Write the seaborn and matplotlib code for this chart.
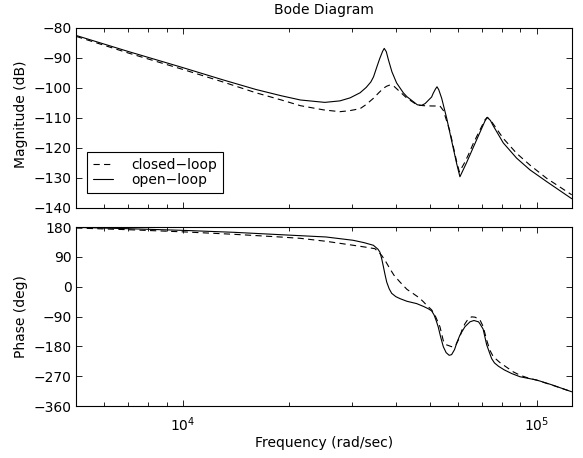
import numpy as np
import pandas as pd
import matplotlib
matplotlib.use("Agg")
import matplotlib.pyplot as plt
from matplotlib.ticker import LogLocator, NullFormatter, MultipleLocator
import seaborn as sns

# ---- frequency response data (rad/sec, dB, deg) ----
freq_mag_open = [5000, 7000, 10000, 13000, 16100, 19000, 21500, 25200, 27800,
                 29700, 31700, 33000, 34000, 34600, 35400, 36000, 36700, 37100,
                 37600, 38100, 39000, 40200, 42000, 43000, 46000, 47300, 48400,
                 50500, 51000, 51800, 52300, 52900, 53900, 55700, 56900, 59400,
                 60700, 63440, 66210, 69140, 71450, 72500, 74000, 75390, 80470,
                 87800, 95740, 106700, 125600]
mag_open = [-82.5, -87.8, -93.2, -97.3, -100.5, -102.6, -104.0, -104.8, -104.3,
            -103.3, -101.6, -99.8, -98.0, -96.3, -92.8, -90.3, -87.8, -86.8,
            -87.9, -90.5, -94.6, -98.3, -101.6, -102.9, -105.6, -105.8, -105.2,
            -103.0, -101.8, -100.3, -99.6, -100.6, -103.4, -110.1, -115.1, -125.1,
            -129.6, -124.8, -119.8, -114.8, -111.0, -109.8, -110.8, -112.6, -118.3,
            -123.4, -127.3, -131.2, -136.9]

freq_mag_closed = [5000, 7000, 10000, 13000, 16100, 19000, 21500, 25000, 27800,
                   29500, 31700, 33000, 34600, 35800, 36900, 37700, 38500, 39500,
                   40600, 43000, 46000, 48000, 50500, 53300, 54500, 56900, 59400,
                   60500, 62500, 64000, 66210, 69140, 71450, 72500, 74000, 75390,
                   80470, 87800, 95740, 106700, 125600]
mag_closed = [-82.8, -88.3, -93.8, -98.0, -101.6, -104.0, -105.9, -107.3, -107.9,
              -107.6, -106.9, -105.5, -103.4, -101.6, -100.1, -99.4, -99.0, -99.4,
              -100.7, -103.4, -105.7, -105.9, -106.0, -106.0, -107.5, -114.5, -124.5,
              -128.0, -125.0, -122.5, -118.5, -114.0, -110.6, -109.8, -110.6, -112.0,
              -116.8, -121.8, -125.7, -130.1, -135.6]

freq_ph_open = [5000, 7000, 10000, 14000, 18800, 25400, 30300, 32500, 34560,
                35620, 36080, 36480, 36870, 37300, 37700, 38300, 38940, 40000,
                41100, 43000, 45810, 48000, 49400, 50500, 51300, 52000, 52700,
                53500, 54480, 55500, 56600, 57500, 58600, 59600, 60700, 62700,
                64800, 66500, 68500, 69140, 70600, 72230, 73800, 74620, 76000,
                78000, 81000, 85000, 89700, 100000, 110000, 125600]
phase_open = [179, 175, 170, 164, 157, 150, 140, 133, 125,
              113, 104, 85, 62, 36, 14, -6, -20, -30,
              -36, -44, -51, -60, -66.5, -73, -85, -102, -121,
              -150, -181, -199, -207, -205, -190, -167, -146, -121,
              -106, -102, -106, -112, -128, -175, -203, -217, -230,
              -240, -251, -262, -271.6, -281.6, -295.5, -317]

freq_ph_closed = [5000, 7000, 10000, 14000, 18800, 21450, 25400, 30300, 33000,
                  34930, 36480, 37500, 38510, 39500, 41100, 43000, 44810, 46500,
                  47820, 48900, 50510, 51800, 53310, 54480, 55500, 57500, 59000,
                  60700, 61400, 62700, 64000, 65500, 67000, 69140, 70600, 72230,
                  73800, 75390, 78760, 82000, 85900, 89700, 93710, 100000, 110000,
                  125600]
phase_closed = [177, 172, 165.5, 158, 150, 146, 137, 125, 119,
                114.6, 94.6, 75, 54, 35, 14, -8, -21, -33,
                -45, -56, -70, -90, -121, -163, -175, -181, -177,
                -152, -133, -112, -98, -91, -92, -100, -120, -161,
                -192, -211, -229, -242, -257, -267, -274, -282, -296,
                -317]

ORDER = ["closed\u2212loop", "open\u2212loop"]

mag_df = pd.concat([
    pd.DataFrame({"freq": freq_mag_closed, "value": mag_closed, "loop": ORDER[0]}),
    pd.DataFrame({"freq": freq_mag_open, "value": mag_open, "loop": ORDER[1]}),
], ignore_index=True)
phase_df = pd.concat([
    pd.DataFrame({"freq": freq_ph_closed, "value": phase_closed, "loop": ORDER[0]}),
    pd.DataFrame({"freq": freq_ph_open, "value": phase_open, "loop": ORDER[1]}),
], ignore_index=True)

sns.set_style("white")
FS = 10
plt.rcParams["font.family"] = ["DejaVu Sans"]
plt.rcParams["font.size"] = FS
plt.rcParams["text.color"] = "black"
plt.rcParams["axes.labelcolor"] = "black"

fig = plt.figure(figsize=(5.83, 4.58), dpi=100)
ax_mag = fig.add_axes([0.1304, 0.5459, 0.8502, 0.3930])
ax_ph = fig.add_axes([0.1304, 0.1135, 0.8502, 0.3908])

LW = 0.8
palette = {ORDER[0]: "black", ORDER[1]: "black"}
dashes = {ORDER[0]: (5.6, 3.9), ORDER[1]: ""}

sns.lineplot(data=mag_df, x="freq", y="value", hue="loop", style="loop",
             hue_order=ORDER, style_order=ORDER, palette=palette, dashes=dashes,
             linewidth=LW, ax=ax_mag, legend=True)
sns.lineplot(data=phase_df, x="freq", y="value", hue="loop", style="loop",
             hue_order=ORDER, style_order=ORDER, palette=palette, dashes=dashes,
             linewidth=LW, ax=ax_ph, legend=False)


def style_axes(ax):
    ax.set_xscale("log")
    ax.set_xlim(4995, 125600)
    ax.xaxis.set_major_locator(LogLocator(base=10, numticks=10))
    ax.xaxis.set_minor_locator(LogLocator(base=10, subs=np.arange(2, 10), numticks=20))
    ax.xaxis.set_minor_formatter(NullFormatter())
    ax.tick_params(which="both", direction="in", top=True, right=True,
                   bottom=True, left=True, colors="black", labelsize=FS, width=0.6)
    ax.tick_params(which="major", length=4)
    ax.tick_params(which="minor", length=2.6)
    ax.tick_params(axis="y", pad=3)
    ax.tick_params(axis="x", pad=7)
    for sp in ax.spines.values():
        sp.set_visible(True)
        sp.set_color("black")
        sp.set_linewidth(0.8)


style_axes(ax_mag)
style_axes(ax_ph)

ax_mag.set_ylim(-140, -80)
ax_mag.yaxis.set_major_locator(MultipleLocator(10))
ax_mag.tick_params(axis="x", labelbottom=False)
ax_mag.set_xlabel("")
ax_mag.set_ylabel("Magnitude (dB)", fontsize=FS)
ax_mag.yaxis.set_label_coords(-0.097, 0.52)
ax_mag.set_title("Bode Diagram", fontsize=FS, pad=9.8)

ax_ph.set_ylim(-360, 180)
ax_ph.yaxis.set_major_locator(MultipleLocator(90))
ax_ph.set_ylabel("Phase (deg)", fontsize=FS)
ax_ph.yaxis.set_label_coords(-0.097, 0.5)
ax_ph.set_xlabel("Frequency (rad/sec)", fontsize=FS, va="top")
ax_ph.xaxis.set_label_coords(0.5, -0.17)

sns.move_legend(ax_mag, loc="lower left", bbox_to_anchor=(0.0216, 0.0817),
                title=None, frameon=True, fancybox=False, edgecolor="black",
                framealpha=1, borderaxespad=0, handlelength=1.45,
                handletextpad=1.3, borderpad=0.45, labelspacing=0.05,
                fontsize=FS)
ax_mag.get_legend().get_frame().set_linewidth(0.8)

fig.savefig("out.png", dpi=100)
